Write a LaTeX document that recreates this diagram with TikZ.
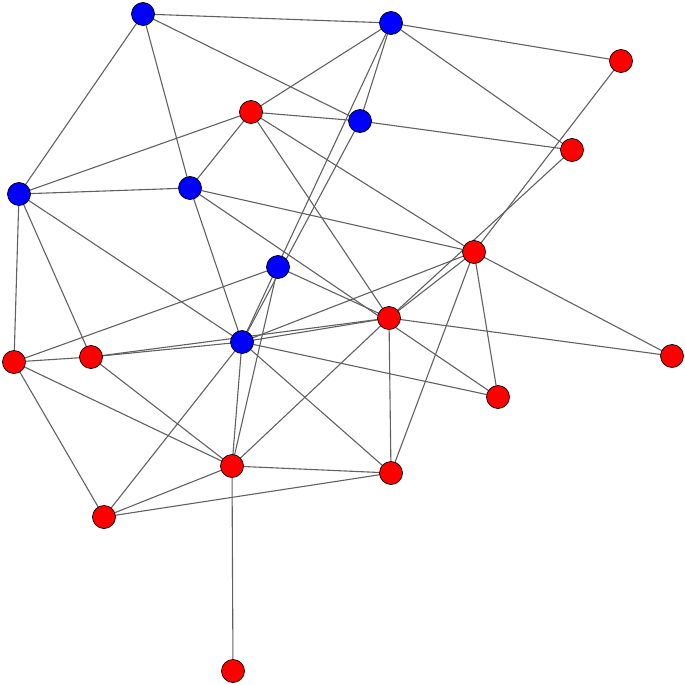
\documentclass[tikz,border=0pt]{standalone}
\usetikzlibrary{backgrounds}
\begin{document}
\begin{tikzpicture}[x=1pt,y=-1pt,
  vtx/.style={circle,draw=black,line width=0.7pt,minimum size=23pt,inner sep=0pt},
  bluev/.style={vtx,fill=blue},
  redv/.style={vtx,fill=red},
  edge/.style={draw=black!62,line width=1.1pt}]
\useasboundingbox (0,0) rectangle (685,685);
\node[bluev] (B1) at (143,14) {};
\node[bluev] (B2) at (391,23) {};
\node[bluev] (B3) at (360,121) {};
\node[bluev] (B4) at (190,188) {};
\node[bluev] (B5) at (19,194) {};
\node[bluev] (B6) at (278,267) {};
\node[bluev] (B7) at (242,342) {};
\node[redv] (R1) at (621,61) {};
\node[redv] (R2) at (251,112) {};
\node[redv] (R3) at (572,150) {};
\node[redv] (R4) at (474,252) {};
\node[redv] (R5) at (389,318) {};
\node[redv] (R6) at (14,362) {};
\node[redv] (R7) at (91,357) {};
\node[redv] (R8) at (672,356) {};
\node[redv] (R9) at (498,397) {};
\node[redv] (R10) at (232,466) {};
\node[redv] (R11) at (391,473) {};
\node[redv] (R12) at (104,517) {};
\node[redv] (R13) at (233,671) {};
\begin{scope}[on background layer]
\foreach \a/\b in {B1/B2,B1/B5,B1/B4,B1/B3,
  B2/R1,B2/R2,B2/R3,B2/B3,B2/B7,
  B3/R2,B3/R3,B3/B7,
  R2/B5,R2/B4,R2/R4,R2/R5,
  B5/B4,B5/R6,B5/R7,B5/B7,
  B4/R4,B4/B7,B4/R9,
  B6/R6,B6/R5,B6/R10,
  B7/R7,B7/R4,B7/R5,B7/R9,B7/R11,B7/R10,B7/R12,
  R7/R5,R7/R10,R6/R7,R6/R12,R6/R10,
  R1/R4,R3/R5,R4/R5,R4/R8,R4/R9,R4/R11,
  R5/R8,R5/R11,R5/R10,
  R10/R11,R10/R12,R10/R13,R12/R11}
  \draw[edge] (\a.center) -- (\b.center);
\end{scope}
\end{tikzpicture}
\end{document}
